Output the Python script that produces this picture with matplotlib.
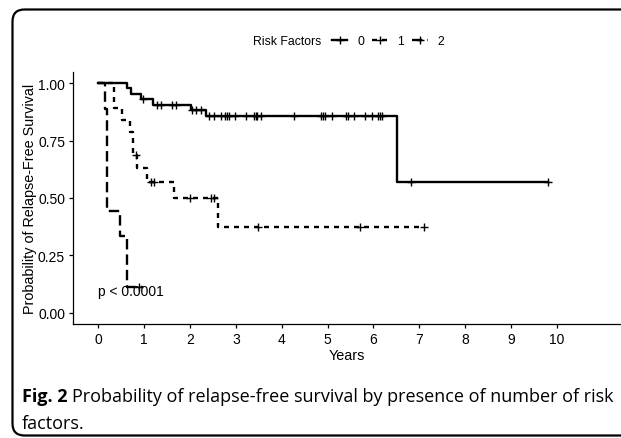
import numpy as np
import matplotlib
matplotlib.use("Agg")
import matplotlib.pyplot as plt
from matplotlib.lines import Line2D
from matplotlib.patches import PathPatch
from matplotlib.path import Path

plt.rcParams['font.family'] = ['Liberation Sans', 'DejaVu Sans']
plt.rcParams['lines.scale_dashes'] = False

# Kaplan-Meier step data (time in years, survival)
t0 = [0, 0.62, 0.72, 0.92, 1.20, 2.01, 2.34, 6.51, 9.80]
s0 = [1.0, 0.978, 0.956, 0.934, 0.908, 0.883, 0.856, 0.568, 0.568]
c0 = [0.98, 1.28, 1.36, 1.61, 1.70, 2.05, 2.14, 2.23, 2.41, 2.52, 2.67, 2.77,
      2.81, 2.84, 2.99, 3.21, 3.39, 3.43, 3.46, 3.54, 4.26, 4.86, 4.90, 4.95,
      5.10, 5.41, 5.44, 5.57, 5.82, 5.97, 6.09, 6.15, 6.19, 6.82, 9.80]

t1 = [0, 0.34, 0.52, 0.69, 0.75, 0.85, 1.07, 1.65, 2.61, 7.11]
s1 = [1.0, 0.895, 0.842, 0.790, 0.686, 0.630, 0.570, 0.500, 0.372, 0.372]
c1 = [0.81, 1.14, 1.21, 2.00, 2.45, 2.52, 3.48, 5.70, 7.11]

t2 = [0, 0.14, 0.19, 0.47, 0.63, 0.97]
s2 = [1.0, 0.889, 0.444, 0.333, 0.111, 0.111]
c2 = [0.88]

groups = ['0', '1', '2']
times = [t0, t1, t2]
surv = [s0, s1, s2]
cens = [c0, c1, c2]
dashes = [None, (3.6, 3.6), (7.5, 3.6)]

W, H = 621, 439
fig = plt.figure(figsize=(W / 100, H / 100), dpi=100)

# frame around figure + caption, open to the right (pixel units, y up)
L, T, B, R, r = 12.5, H - 10.5, H - 436.5, 700, 12
verts = [(R, T), (L + r, T), (L, T), (L, T - r), (L, B + r), (L, B), (L + r, B), (R, B)]
codes = [Path.MOVETO, Path.LINETO, Path.CURVE3, Path.CURVE3,
         Path.LINETO, Path.CURVE3, Path.CURVE3, Path.LINETO]
frame = PathPatch(Path([(x / 100, y / 100) for x, y in verts], codes),
                  transform=fig.dpi_scale_trans, fill=False, lw=1.6, ec='black')
fig.patches.append(frame)

ax = fig.add_axes([72.7 / W, 1 - 325 / H, 1 - 72.7 / W, (325 - 73) / H])
ax.set_xlim(-0.56, 11.4)
ax.set_ylim(-0.05, 1.05)

handles = []
for t, s, c, d in zip(times, surv, cens, dashes):
    ln, = ax.step(t, s, where='post', color='black', lw=1.7)
    if d is not None:
        ln.set_dashes(d)
    cy = [s[np.searchsorted(t, x, side='right') - 1] for x in c]
    ax.plot(c, cy, ls='none', marker='+', ms=6, mew=1.0, color='black')
    h = Line2D([], [], color='black', lw=1.7, marker='+', ms=6, mew=1.0)
    if d is not None:
        h.set_dashes(d)
    handles.append(h)

ax.text(0, 0.095, 'p < 0.0001', fontsize=10, va='center', ha='left')

ax.set_xticks(range(0, 11))
ax.set_yticks([0, 0.25, 0.5, 0.75, 1.0])
ax.set_yticklabels(['0.00', '0.25', '0.50', '0.75', '1.00'])
ax.tick_params(labelsize=10, length=3, width=0.9, colors='black', pad=2.5)
for side in ['top', 'right']:
    ax.spines[side].set_visible(False)
for side in ['left', 'bottom']:
    ax.spines[side].set_linewidth(0.9)
ax.set_xlabel('Years', fontsize=10.4, labelpad=2)
ax.set_ylabel('Probability of Relapse-Free Survival', fontsize=10.4, labelpad=1)

fig.text(253 / W, 1 - 42 / H, 'Risk Factors', fontsize=8.8, va='center', ha='left')
fig.legend(handles, groups, ncol=3, loc='center left',
           bbox_to_anchor=(332 / W, 1 - 42 / H), frameon=False, fontsize=8.8,
           handlelength=1.25, handletextpad=0.8, columnspacing=0.68,
           borderaxespad=0, borderpad=0)

# caption
cap_font = ['Open Sans', 'DejaVu Sans']
cap_size = 13.0
t_bold = fig.text(22 / W, 1 - 397 / H, 'Fig. 2', fontsize=cap_size, fontweight='bold',
                  family=cap_font, va='center', ha='left')
fig.canvas.draw()
bb = t_bold.get_window_extent()
fig.text((bb.x1 + 4) / W, 1 - 397 / H,
         'Probability of relapse-free survival by presence of number of risk',
         fontsize=cap_size, family=cap_font, va='center', ha='left')
fig.text(22 / W, 1 - 424 / H, 'factors.', fontsize=cap_size, family=cap_font,
         va='center', ha='left')

fig.savefig('out.png', dpi=100)
